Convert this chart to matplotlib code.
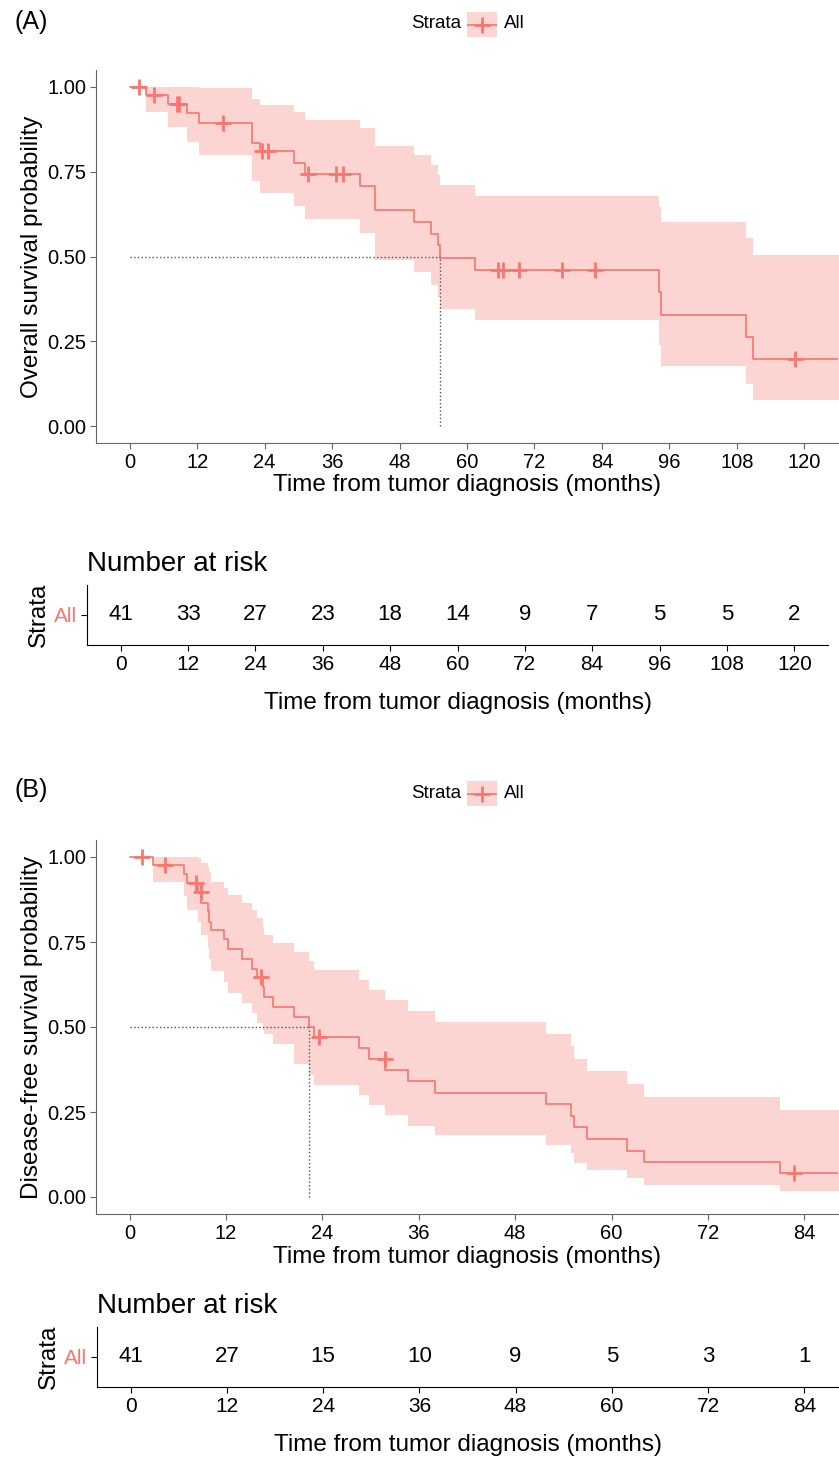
import numpy as np
import matplotlib
matplotlib.use("Agg")
import matplotlib.pyplot as plt

plt.rcParams['font.family'] = ['Liberation Sans', 'DejaVu Sans']

RED = '#F8766D'

# ---- panel A: overall survival ----
os_time = [0, 2.96, 6.8, 10.1, 12.3, 21.7, 23.1, 29.3, 31.2, 41.0, 43.7, 50.5, 53.6,
           54.9, 55.2, 61.4, 94.1, 94.6, 109.7, 110.8, 128]
os_surv = [1.0, 0.976, 0.951, 0.923, 0.895, 0.836, 0.81, 0.776, 0.744, 0.708, 0.638,
           0.602, 0.567, 0.533, 0.496, 0.46, 0.394, 0.328, 0.262, 0.197, 0.197]
os_upper = [1.0, 1.0, 1.0, 1.0, 0.997, 0.965, 0.946, 0.925, 0.904, 0.88, 0.827, 0.80,
            0.77, 0.739, 0.71, 0.678, 0.646, 0.603, 0.556, 0.504, 0.504]
os_lower = [1.0, 0.926, 0.882, 0.839, 0.799, 0.722, 0.687, 0.648, 0.612, 0.57, 0.49,
            0.453, 0.416, 0.38, 0.344, 0.312, 0.24, 0.178, 0.123, 0.076, 0.076]
os_censor = [1.66, 4.4, 8.4, 8.8, 16.6, 23.6, 24.6, 31.7, 36.7, 37.9, 65.6, 66.4,
             69.3, 76.9, 82.7, 118.4]
os_median = 55.2
os_risk_t = [0, 12, 24, 36, 48, 60, 72, 84, 96, 108, 120]
os_risk_n = [41, 33, 27, 23, 18, 14, 9, 7, 5, 5, 2]

# ---- panel B: disease-free survival ----
dfs_time = [0, 2.95, 6.77, 7.1, 8.5, 8.9, 9.75, 9.9, 10.1, 11.7, 12.2, 14.0, 15.2, 15.9,
            16.6, 16.7, 17.9, 20.4, 22.3, 22.95, 28.6, 29.8, 31.85, 34.6, 38.0, 51.9,
            55.0, 55.3, 56.9, 61.9, 64.0, 81.0, 90]
dfs_surv = [1.0, 0.976, 0.951, 0.924, 0.897, 0.866, 0.84, 0.81, 0.786, 0.758, 0.729,
            0.70, 0.672, 0.647, 0.618, 0.588, 0.559, 0.529, 0.50, 0.47, 0.439, 0.406,
            0.374, 0.34, 0.307, 0.273, 0.239, 0.205, 0.171, 0.136, 0.103, 0.07, 0.07]
dfs_upper = [1.0, 1.0, 1.0, 1.0, 0.997, 0.983, 0.97, 0.956, 0.927, 0.91, 0.887, 0.866,
             0.844, 0.82, 0.795, 0.77, 0.746, 0.72, 0.694, 0.668, 0.638, 0.609, 0.578,
             0.546, 0.514, 0.48, 0.444, 0.407, 0.37, 0.332, 0.293, 0.256, 0.256]
dfs_lower = [1.0, 0.927, 0.885, 0.844, 0.809, 0.77, 0.735, 0.699, 0.665, 0.632, 0.60,
             0.57, 0.54, 0.512, 0.49, 0.478, 0.449, 0.39, 0.359, 0.33, 0.30, 0.27, 0.24,
             0.21, 0.183, 0.153, 0.128, 0.101, 0.078, 0.057, 0.035, 0.018, 0.018]
dfs_censor = [1.58, 4.36, 8.3, 8.84, 16.4, 23.6, 31.8, 82.7]
dfs_median = 22.3
dfs_risk_t = [0, 12, 24, 36, 48, 60, 72, 84]
dfs_risk_n = [41, 27, 15, 10, 9, 5, 3, 1]

W, H = 839, 1460
fig = plt.figure(figsize=(W / 100, H / 100), dpi=100)


def px_axes(l, t, r, b):
    return fig.add_axes([l / W, 1 - b / H, (r - l) / W, (b - t) / H])


def km_panel(ax, time, surv, upper, lower, censor, median, xmax, ylabel):
    time = np.array(time)
    surv = np.array(surv)
    ax.fill_between(time, lower, upper, step='post', color=RED, alpha=0.3, lw=0)
    ax.step(time, surv, where='post', color=RED, lw=1.2)
    idx = np.searchsorted(time, censor, side='right') - 1
    ax.plot(censor, surv[idx], '+', color=RED, ms=11, mew=2)
    ax.plot([0, median], [0.5, 0.5], ls=':', color='#555555', lw=1)
    ax.plot([median, median], [0, 0.5], ls=':', color='#555555', lw=1)
    ax.set_xlim(-0.05 * xmax, 1.05 * xmax)
    ax.set_ylim(-0.05, 1.05)
    ax.set_xticks(np.arange(0, xmax + 1, 12))
    ax.set_yticks([0, 0.25, 0.5, 0.75, 1.0])
    ax.set_yticklabels(['0.00', '0.25', '0.50', '0.75', '1.00'])
    for s in ['top', 'right']:
        ax.spines[s].set_visible(False)
    for s in ['left', 'bottom']:
        ax.spines[s].set_color('#666666')
    ax.tick_params(labelsize=14.5, color='#666666', length=4, pad=3)
    ax.set_xlabel('Time from tumor diagnosis (months)', fontsize=17.5, labelpad=2)
    ax.set_ylabel(ylabel, fontsize=17.5, labelpad=3)


def risk_table(ax, rt, rn, xmax):
    for t, n in zip(rt, rn):
        ax.text(t, 0, str(n), ha='center', va='center', fontsize=16)
    ax.set_xlim(-0.05 * xmax, 1.05 * xmax)
    ax.set_ylim(-1, 1)
    ax.set_xticks(rt)
    ax.set_yticks([0])
    ax.set_yticklabels(['All'])
    ax.get_yticklabels()[0].set_color(RED)
    for s in ['top', 'right']:
        ax.spines[s].set_visible(False)
    ax.tick_params(labelsize=15, length=4, pad=3)
    ax.set_xlabel('Time from tumor diagnosis (months)', fontsize=17.5, labelpad=13)
    ax.set_ylabel('Strata', fontsize=17.5, labelpad=3)
    ax.set_title('Number at risk', fontsize=20, loc='left', pad=10, x=0)


def legend(y):
    fig.text(461 / W, 1 - y / H, 'Strata', ha='right', va='center', fontsize=13.5)
    kax = px_axes(467, y - 12, 497, y + 13)
    kax.set_facecolor('#FDD5D2')
    kax.set_xlim(0, 1)
    kax.set_ylim(0, 1)
    kax.plot([0, 1], [0.5, 0.5], color=RED, lw=1.2)
    kax.plot([0.5], [0.5], '+', color=RED, ms=11, mew=2)
    kax.set_xticks([])
    kax.set_yticks([])
    for s in kax.spines.values():
        s.set_visible(False)
    fig.text(504 / W, 1 - y / H, 'All', ha='left', va='center', fontsize=13.5)


# panel A
fig.text(14 / W, 1 - 22 / H, '(A)', ha='left', va='center', fontsize=18)
legend(24)
axA = px_axes(96, 70, 838, 443)
km_panel(axA, os_time, os_surv, os_upper, os_lower, os_censor, os_median, 120,
         'Overall survival probability')
rA = px_axes(87, 585, 828, 645)
risk_table(rA, os_risk_t, os_risk_n, 120)

# panel B
fig.text(14 / W, 1 - 790 / H, '(B)', ha='left', va='center', fontsize=18)
legend(793)
axB = px_axes(96, 840, 838, 1214)
km_panel(axB, dfs_time, dfs_surv, dfs_upper, dfs_lower, dfs_censor, dfs_median, 84,
         'Disease-free survival probability')
rB = px_axes(97, 1327, 838, 1387)
risk_table(rB, dfs_risk_t, dfs_risk_n, 84)

fig.savefig('out.png', dpi=100)
